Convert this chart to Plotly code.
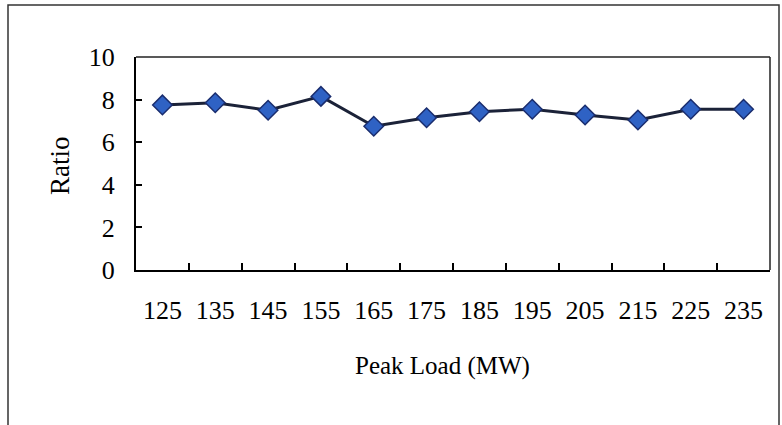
import plotly.graph_objects as go

peak_load = ["125", "135", "145", "155", "165", "175", "185", "195", "205", "215", "225", "235"]
ratio = [7.75, 7.85, 7.5, 8.15, 6.75, 7.15, 7.43, 7.55, 7.28, 7.04, 7.55, 7.55]

L, R, T, B = 136, 770, 57, 270
W, H = 782, 425
pw, ph = R - L, B - T

def px(x):
    return (x - L) / pw

def py(y):
    return (B - y) / ph

fig = go.Figure()
fig.add_trace(go.Scatter(
    x=peak_load, y=ratio, mode="lines+markers",
    line=dict(color="#1b2238", width=3),
    marker=dict(symbol="diamond", size=15, color="#2f62c4",
                line=dict(color="#1a2d6e", width=1.5)),
    showlegend=False,
))

font = "Liberation Serif, Times New Roman, serif"
fig.update_layout(
    width=W, height=H,
    margin=dict(l=L, r=W - R, t=T, b=H - B),
    paper_bgcolor="white", plot_bgcolor="white",
    font=dict(family=font, color="black", size=26),
    xaxis=dict(type="category", range=[-0.5, 11.5], tickson="boundaries",
               ticks="inside", ticklen=7, tickcolor="black", tickwidth=1.5,
               showline=True, linecolor="black", linewidth=2, mirror=False,
               showgrid=False, zeroline=False,
               tickfont=dict(family=font, size=26), ticklabelstandoff=16),
    yaxis=dict(range=[0, 10], dtick=2, ticks="inside", ticklen=6,
               tickcolor="black", tickwidth=1.5,
               showline=True, linecolor="black", linewidth=2, mirror=False,
               showgrid=False, zeroline=False,
               tickfont=dict(family=font, size=26), ticklabelstandoff=14),
    annotations=[
        dict(text="Ratio", x=px(60), y=py(166), xref="paper", yref="paper",
             showarrow=False, textangle=-90, font=dict(family=font, size=27),
             xanchor="center", yanchor="middle"),
        dict(text="Peak Load (MW)", x=px(442), y=py(366), xref="paper", yref="paper",
             showarrow=False, font=dict(family=font, size=25),
             xanchor="center", yanchor="middle"),
    ],
    shapes=[
        dict(type="rect", xref="paper", yref="paper",
             x0=px(8), x1=px(779), y0=py(440), y1=py(5),
             line=dict(color="#333333", width=1.5), layer="below"),
        dict(type="line", xref="paper", yref="paper",
             x0=0, x1=1, y0=1, y1=1,
             line=dict(color="#222222", width=1.5)),
        dict(type="line", xref="paper", yref="paper",
             x0=1, x1=1, y0=0, y1=1,
             line=dict(color="#222222", width=1.5)),
    ],
)

fig.write_html("out.html")
